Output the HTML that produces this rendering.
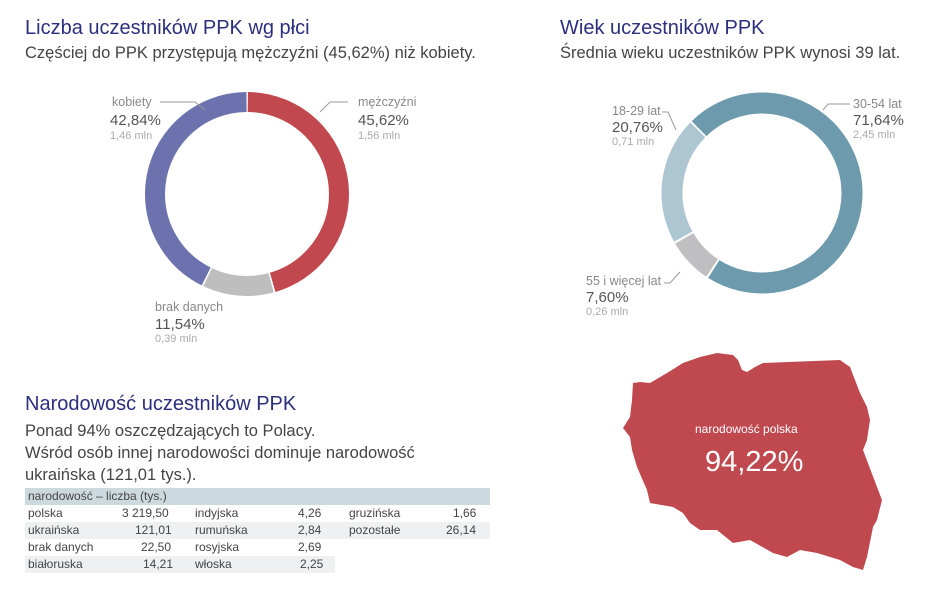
<!DOCTYPE html>
<html><head><meta charset="utf-8"><style>
body{margin:0;width:948px;height:592px;background:#fff;font-family:"Liberation Sans",sans-serif;position:relative;overflow:hidden}
.a{position:absolute;white-space:nowrap}
.t{font-size:20px;color:#2b2f7e}
.s{font-size:16.5px;color:#444}
.l{font-size:12.5px;color:#888}
.p{font-size:15px;color:#555}
.m{font-size:11px;color:#aaa}
.row{position:absolute;left:25px;height:17px;font-size:12px;color:#444}
.c{position:absolute;top:1px}
</style></head><body>
<div class="a t" style="left:25px;top:17px">Liczba uczestników PPK wg płci</div>
<div class="a s" style="left:25px;top:44px">Częściej do PPK przystępują mężczyźni (45,62%) niż kobiety.</div>
<div class="a t" style="left:560px;top:17px">Wiek uczestników PPK</div>
<div class="a s" style="left:560px;top:44px">Średnia wieku uczestników PPK wynosi 39 lat.</div>
<div class="a t" style="left:25px;top:393px">Narodowość uczestników PPK</div>
<div class="a s" style="left:25px;top:420px;line-height:22px">Ponad 94% oszczędzających to Polacy.<br>Wśród osób innej narodowości dominuje narodowość<br>ukraińska (121,01 tys.).</div>

<svg class="a" style="left:0;top:0" width="948" height="592">
<g transform="rotate(-90 247 194)" fill="none">
<circle cx="247" cy="194" r="92" stroke="#c1484e" stroke-width="20" stroke-dasharray="0 0.8 262.1 578.05"/>
<circle cx="247" cy="194" r="92" stroke="#bebebe" stroke-width="20" stroke-dasharray="0 264.5 65.1 578.05"/>
<circle cx="247" cy="194" r="92" stroke="#6b72ad" stroke-width="20" stroke-dasharray="0 331.2 246.1 578.05"/>
</g>
<g transform="rotate(225 762 193)" fill="none">
<circle cx="762" cy="193" r="90" stroke="#6d9aad" stroke-width="21" stroke-dasharray="0 1 403.1 565.5"/>
<circle cx="762" cy="193" r="90" stroke="#bfbfc1" stroke-width="21" stroke-dasharray="0 406.1 41 565.5"/>
<circle cx="762" cy="193" r="90" stroke="#aec5d2" stroke-width="21" stroke-dasharray="0 449.1 115.4 565.5"/>
</g>
<g stroke="#999" fill="none" stroke-width="1">
<polyline points="160,102 195,102 205,110"/>
<polyline points="348,102 330,102 320,112"/>
<polyline points="850,104 828,104 823,110"/>
<polyline points="662,112 668,112 676,130"/>
<polyline points="664,283 670,283 680,272"/>
</g>
<polygon fill="#c0494f" points="633,383 640,382 650,383 667,373 683,363 700,357 717,353 733,355 738,360 742,370 747,372 755,367 763,363 840,360 850,367 860,393 867,407 870,420 867,440 863,450 877,487 882,500 877,520 873,527 867,557 863,570 853,567 840,560 817,553 800,550 787,557 773,553 750,540 733,543 717,530 700,530 690,523 683,513 673,507 650,503 647,490 637,467 632,450 630,437 623,428 630,417 632,400"/>
</svg>

<div class="a l" style="left:112px;top:95px">kobiety</div>
<div class="a p" style="left:110px;top:112px">42,84%</div>
<div class="a m" style="left:110px;top:130px">1,46 mln</div>
<div class="a l" style="left:358px;top:95px">mężczyźni</div>
<div class="a p" style="left:358px;top:112px">45,62%</div>
<div class="a m" style="left:358px;top:130px">1,56 mln</div>
<div class="a l" style="left:155px;top:300px">brak danych</div>
<div class="a p" style="left:155px;top:316px">11,54%</div>
<div class="a m" style="left:155px;top:333px">0,39 mln</div>

<div class="a l" style="left:612px;top:104px">18-29 lat</div>
<div class="a p" style="left:612px;top:119px">20,76%</div>
<div class="a m" style="left:612px;top:136px">0,71 mln</div>
<div class="a l" style="left:853px;top:97px">30-54 lat</div>
<div class="a p" style="left:853px;top:112px">71,64%</div>
<div class="a m" style="left:853px;top:129px">2,45 mln</div>
<div class="a l" style="left:586px;top:274px">55 i więcej lat</div>
<div class="a p" style="left:586px;top:289px">7,60%</div>
<div class="a m" style="left:586px;top:306px">0,26 mln</div>

<div class="a" style="left:695px;top:422px;font-size:12px;color:#fff">narodowość polska</div>
<div class="a" style="left:705px;top:446px;font-size:29px;color:#fff">94,22%</div>

<div class="row" style="top:488px;width:465px;background:#ccd9df"><span class="c" style="left:3px">narodowość – liczba (tys.)</span></div>
<div class="row" style="top:505px;width:465px"><span class="c" style="left:3px">polska</span><span class="c" style="left:97px">3 219,50</span><span class="c" style="left:170px">indyjska</span><span class="c" style="left:273px">4,26</span><span class="c" style="left:324px">gruzińska</span><span class="c" style="left:428px">1,66</span></div>
<div class="row" style="top:522px;width:465px;background:#eef0f1"><span class="c" style="left:3px">ukraińska</span><span class="c" style="left:110px">121,01</span><span class="c" style="left:170px">rumuńska</span><span class="c" style="left:273px">2,84</span><span class="c" style="left:324px">pozostałe</span><span class="c" style="left:421px">26,14</span></div>
<div class="row" style="top:539px;width:310px"><span class="c" style="left:3px">brak danych</span><span class="c" style="left:116px">22,50</span><span class="c" style="left:170px">rosyjska</span><span class="c" style="left:273px">2,69</span></div>
<div class="row" style="top:556px;width:310px;background:#eef0f1"><span class="c" style="left:3px">białoruska</span><span class="c" style="left:118px">14,21</span><span class="c" style="left:170px">włoska</span><span class="c" style="left:275px">2,25</span></div>
</body></html>
